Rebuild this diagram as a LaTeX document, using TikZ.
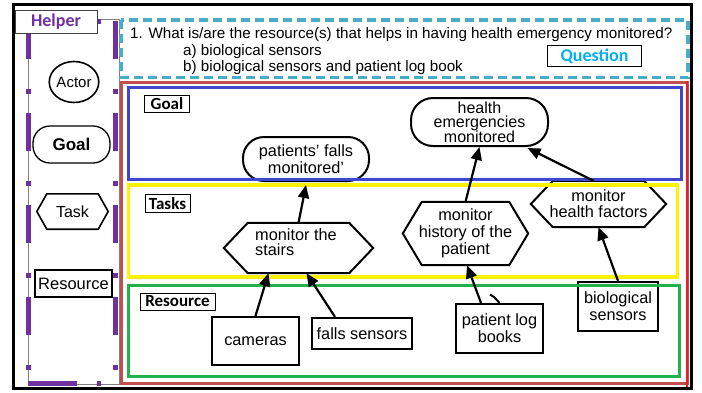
\documentclass[tikz,border=0pt]{standalone}
\usepackage{fontspec}
\setmainfont{Liberation Sans}
\newfontfamily\labelfont{Carlito}
\usetikzlibrary{arrows.meta,calc,shapes.geometric}

\definecolor{helperpurple}{RGB}{112,48,160}
\definecolor{qcyan}{RGB}{75,172,198}
\definecolor{qtext}{RGB}{0,176,240}
\definecolor{framered}{RGB}{192,80,77}
\definecolor{brightred}{RGB}{237,28,36}
\definecolor{goalblue}{RGB}{63,72,204}
\definecolor{taskyellow}{RGB}{255,242,0}
\definecolor{resgreen}{RGB}{34,177,76}

% hexagon outline drawn round a named rectangular node; #2 = slant of the side edges
\newcommand\hexoutline[3]{%
  \draw[line width=#3, line join=miter]
    (#1.west) -- ([xshift=#2pt]#1.north west) -- ([xshift=-#2pt]#1.north east)
    -- (#1.east) -- ([xshift=-#2pt]#1.south east) -- ([xshift=#2pt]#1.south west) -- cycle;}

\begin{document}
\begin{tikzpicture}[x=1pt,y=-1pt,
  txt/.style={font=\fontsize{16.3}{17}\selectfont, align=center, inner sep=0pt},
  box/.style={inner sep=0pt},
  goalshape/.style={box, draw, line width=2pt},
  resshape/.style={box, draw, line width=2.2pt},
  framelbl/.style={draw, line width=0.8pt, fill=white, inner sep=0pt,
    font=\labelfont\bfseries\fontsize{17}{17}\selectfont},
  purpleline/.style={helperpurple, line width=5pt},
  arr/.style={line width=2.2pt, -{Triangle[length=13pt,width=11pt]}},
]
\useasboundingbox (0,0) rectangle (702,392);
\fill[white] (0,0) rectangle (702,392);

% ---------- helper legend ----------
\draw[gray, line width=0.8pt] (28,19) rectangle (119,384);
\draw[purpleline, dash pattern=on 38pt off 30pt on 5pt off 19pt] (28,21) -- (28,384);
\draw[purpleline, dash pattern=on 38pt off 30pt on 5pt off 19pt] (115,21) -- (115,384);
\draw[purpleline, dash pattern=on 49pt off 20pt on 4pt off 30pt] (28,383) -- (115,383);
\draw[purpleline] (97,21) -- (101,21);
\node[draw=darkgray, line width=0.8pt, fill=white, minimum width=82pt, minimum height=23pt,
  inner sep=0pt, text=helperpurple, font=\labelfont\bfseries\fontsize{18}{18}\selectfont]
  (helper) at (56,21.5) {Helper};

\node[ellipse, draw, line width=1.6pt, minimum width=47pt, minimum height=41pt, inner sep=0pt,
  font=\fontsize{15}{15}\selectfont] (actor) at (74,82) {Actor};
\node[box, draw, line width=1.3pt, rounded corners=17pt, minimum width=77pt, minimum height=37pt,
  font=\bfseries\fontsize{17}{17}\selectfont] (lgoal) at (71.5,144.5) {Goal};
\node[box, minimum width=71pt, minimum height=35pt, font=\fontsize{16}{16}\selectfont]
  (ltask) at (72.5,211.5) {Task};
\hexoutline{ltask}{10}{1.6pt}
\node[box, draw, line width=2pt, minimum width=77pt, minimum height=27pt,
  font=\fontsize{16.5}{16.5}\selectfont] (lres) at (73.5,283.5) {Resource};

% ---------- question ----------
\draw[qcyan, line width=3.5pt, dash pattern=on 9pt off 5pt] (121,20) rectangle (688,77.5);
\node[anchor=west, inner sep=0pt, font=\fontsize{15.2}{16}\selectfont] (q1) at (130,34.5)
  {1. What is/are the resource(s) that helps in having health emergency monitored?};
\node[anchor=west, inner sep=0pt, font=\fontsize{15.2}{16}\selectfont] (q2) at (183,51.3)
  {a) biological sensors};
\node[anchor=west, inner sep=0pt, font=\fontsize{15.2}{16}\selectfont] (q3) at (183,67.7)
  {b) biological sensors and patient log book};
\node[draw, line width=0.8pt, minimum width=94pt, minimum height=21pt, inner sep=0pt,
  text=qtext, font=\labelfont\bfseries\fontsize{18}{18}\selectfont] (qlabel) at (594.5,56) {Question};

% ---------- goals ----------
\node[goalshape, rounded corners=22pt, minimum width=137pt, minimum height=48pt, txt,
  font=\fontsize{16}{16.5}\selectfont]
  (hemerg) at (479.5,122) {health\\[-2pt]emergencies\\[-2pt]monitored};
\node[goalshape, rounded corners=21pt, minimum width=126pt, minimum height=44pt, txt]
  (pfalls) at (306,159) {patients’ falls\\monitored’};

% ---------- tasks ----------
\node[box, minimum width=149pt, minimum height=50pt] (stairs) at (298.5,248) {};
\hexoutline{stairs}{24}{2pt}
\node[txt, align=left, font=\fontsize{16.3}{15}\selectfont] (stairs-t) at (296,242.5) {monitor the\\stairs};
\node[box, minimum width=125pt, minimum height=63pt, txt] (hist) at (465.5,233.5)
  {monitor\\history of the\\patient};
\hexoutline{hist}{19}{2pt}
\node[box, minimum width=135pt, minimum height=46pt, txt, font=\fontsize{16.3}{16}\selectfont]
  (hfact) at (598.5,204) {monitor\\health factors};
\hexoutline{hfact}{22}{2pt}

% ---------- resources ----------
\node[resshape, minimum width=87pt, minimum height=48pt, txt] (cam) at (255.5,341) {cameras};
\node[resshape, minimum width=100pt, minimum height=31pt, txt] (falls) at (362,333.5) {falls sensors};
\node[resshape, minimum width=87pt, minimum height=49pt, txt] (logb) at (499.5,328.5) {patient log\\books};
\node[resshape, minimum width=80pt, minimum height=49pt, txt] (bio) at (618,306.5) {biological\\sensors};

% ---------- frames ----------
\draw[line width=3pt] (13,4.5) rectangle (691.5,388.5);
\draw[framered, line width=3pt] (121.5,82) rectangle (687,383.5);
\draw[brightred, line width=2.5pt] (687,81) -- (687,387);
\draw[goalblue, line width=3pt] (128.5,87.5) rectangle (681,179.5);
\draw[taskyellow, line width=3.5pt] (128.5,185) rectangle (677.5,277);
\draw[resgreen, line width=3pt] (128.5,285) rectangle (679,376);

\node[framelbl, minimum width=45pt, minimum height=17pt] (goal-lbl) at (167,104) {Goal};
\node[framelbl, minimum width=45pt, minimum height=18pt] (task-lbl) at (167.5,203.5) {Tasks};
\node[framelbl, minimum width=75pt, minimum height=17pt] (res-lbl) at (177.5,301.5) {Resource};

% ---------- links ----------
\draw[arr] (cam.north) -- ([xshift=-30pt]stairs.south);
\draw[arr] ([xshift=-27pt]falls.north) -- ([xshift=8pt]stairs.south);
\draw[arr] (stairs.north) -- ([yshift=-3pt]pfalls.south);
\draw[arr] ([xshift=-18.5pt]logb.north) -- ([xshift=1.5pt]hist.south);
\draw[arr] (hist.north) -- (hemerg.south);
\draw[arr] ([xshift=-5pt]hfact.north) -- ([xshift=48pt,yshift=-1pt]hemerg.south);
\draw[arr] (bio.north) -- (hfact.south);
\coordinate (stub-bend) at (494,297);
\coordinate (stub-end) at (490,294.5);
\draw[line width=2pt] (logb.north) -- (stub-bend) -- (stub-end);
\end{tikzpicture}
\end{document}
